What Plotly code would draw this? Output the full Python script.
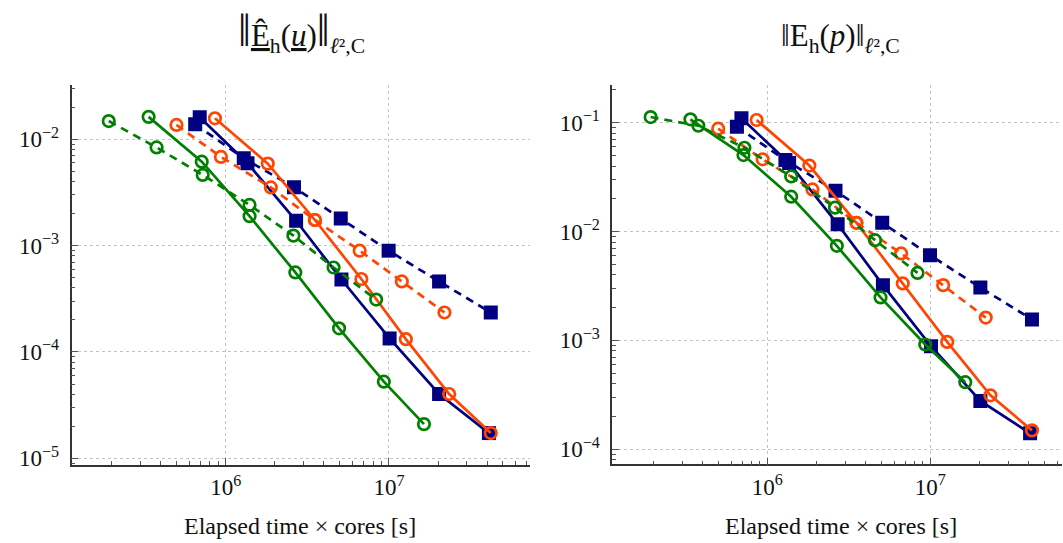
import plotly.graph_objects as go

W, H = 1063, 543

# ---------------- data ----------------
# elapsed time x cores [s] per series (shared by both panels)
x_navy_solid = [6.93e5, 1.36e6, 2.70e6, 5.12e6, 1.01e7, 2.03e7, 4.10e7]
x_navy_dash = [6.50e5, 1.29e6, 2.62e6, 5.07e6, 9.96e6, 2.03e7, 4.21e7]
x_orange_solid = [8.59e5, 1.81e6, 3.52e6, 6.78e6, 1.27e7, 2.34e7, 4.21e7]
x_orange_dash = [4.99e5, 9.35e5, 1.89e6, 3.52e6, 6.62e6, 1.20e7, 2.19e7]
x_green_solid = [3.37e5, 7.13e5, 1.40e6, 2.67e6, 4.95e6, 9.31e6, 1.64e7]
x_green_dash = [1.92e5, 3.77e5, 7.23e5, 1.40e6, 2.60e6, 4.58e6, 8.35e6]

# left panel: velocity error
u_navy_solid = [1.61e-2, 5.94e-3, 1.71e-3, 4.80e-4, 1.34e-4, 4.03e-5, 1.73e-5]
u_navy_dash = [1.38e-2, 6.61e-3, 3.53e-3, 1.80e-3, 8.96e-4, 4.60e-4, 2.35e-4]
u_orange_solid = [1.57e-2, 5.89e-3, 1.74e-3, 4.85e-4, 1.32e-4, 4.03e-5, 1.73e-5]
u_orange_dash = [1.36e-2, 6.81e-3, 3.52e-3, 1.74e-3, 8.96e-4, 4.60e-4, 2.35e-4]
u_green_solid = [1.62e-2, 6.14e-3, 1.89e-3, 5.59e-4, 1.67e-4, 5.26e-5, 2.10e-5]
u_green_dash = [1.48e-2, 8.36e-3, 4.61e-3, 2.41e-3, 1.24e-3, 6.22e-4, 3.11e-4]

# right panel: pressure error
p_navy_solid = [0.1098, 0.0426, 0.0117, 3.22e-3, 8.85e-4, 2.78e-4, 1.40e-4]
p_navy_dash = [0.0919, 0.0454, 0.0237, 0.01204, 6.07e-3, 3.06e-3, 1.56e-3]
p_orange_solid = [0.1059, 0.0404, 0.01204, 3.34e-3, 9.69e-4, 3.13e-4, 1.49e-4]
p_orange_dash = [0.0881, 0.0461, 0.0244, 0.01204, 6.30e-3, 3.22e-3, 1.62e-3]
p_green_solid = [0.1075, 0.0505, 0.0209, 7.40e-3, 2.48e-3, 9.17e-4, 4.13e-4]
p_green_dash = [0.1128, 0.0938, 0.0589, 0.0321, 0.0166, 8.34e-3, 4.17e-3]

x_tickvals = [1e6, 1e7]
x_ticktext = ["10<sup>6</sup>", "10<sup>7</sup>"]
yl_tickvals = [1e-5, 1e-4, 1e-3, 1e-2]
yl_ticktext = ["10<sup>−5</sup>", "10<sup>−4</sup>", "10<sup>−3</sup>", "10<sup>−2</sup>"]
yr_tickvals = [1e-4, 1e-3, 1e-2, 1e-1]
yr_ticktext = ["10<sup>−4</sup>", "10<sup>−3</sup>", "10<sup>−2</sup>", "10<sup>−1</sup>"]

BAR = '<span style="font-size:46px">‖</span>'
title_left = BAR + "<u>Ê</u><sub>h</sub>(<u><i>u</i></u>)" + BAR + "<sub><i>ℓ</i>²,C</sub>"
title_right = "‖E<sub>h</sub>(<i>p</i>)‖<sub><i>ℓ</i>²,C</sub>"
xlabel = "Elapsed time × cores [s]"

NAVY = "#000080"
ORANGE = "#ff4500"
GREEN = "#008000"
FONT = "Liberation Serif"

series = [
    (x_navy_solid, u_navy_solid, p_navy_solid, NAVY, "solid", "square"),
    (x_navy_dash, u_navy_dash, p_navy_dash, NAVY, "8px,6px", "square"),
    (x_orange_solid, u_orange_solid, p_orange_solid, ORANGE, "solid", "circle-open"),
    (x_orange_dash, u_orange_dash, p_orange_dash, ORANGE, "8px,6px", "circle-open"),
    (x_green_solid, u_green_solid, p_green_solid, GREEN, "solid", "circle-open"),
    (x_green_dash, u_green_dash, p_green_dash, GREEN, "8px,6px", "circle-open"),
]

fig = go.Figure()
for xs, ul, pr, col, dash, sym in series:
    if sym == "square":
        mk = dict(symbol="square", size=14, color=col, line=dict(width=0))
    else:
        mk = dict(symbol="circle-open", size=11.5, color=col, line=dict(width=2.7, color=col))
    for yv, xa, ya in ((ul, "x", "y"), (pr, "x2", "y2")):
        fig.add_trace(go.Scatter(x=xs, y=yv, xaxis=xa, yaxis=ya, mode="lines+markers",
                                 line=dict(color=col, width=2.7, dash=dash),
                                 marker=mk, showlegend=False))


def minor_vals(lo, hi):
    v = []
    for e in range(lo, hi + 1):
        for m in range(2, 10):
            v.append(m * 10.0 ** e)
    return v


def px_x(p):
    return p / W


def px_y(p):
    return 1 - p / H


axis_common = dict(type="log", showline=True, linecolor="#333333", linewidth=1.6,
                   ticks="inside", ticklen=7, tickwidth=1, tickcolor="#555555",
                   showgrid=True, gridcolor="#c4c4c4", griddash="dot", gridwidth=1.4,
                   zeroline=False, automargin=False, mirror=False,
                   tickfont=dict(family=FONT, size=23, color="#111111"))

minor_x = dict(tickvals=minor_vals(5, 7), ticks="inside", ticklen=4, tickwidth=1,
               tickcolor="#555555", showgrid=False)

fig.update_layout(
    width=W, height=H, template="none",
    margin=dict(l=0, r=0, t=0, b=0),
    paper_bgcolor="white", plot_bgcolor="white",
    xaxis=dict(axis_common, domain=[px_x(71.5), px_x(530)], range=[5.055, 7.8646],
               tickvals=x_tickvals, ticktext=x_ticktext, minor=minor_x, anchor="y",
               ticklabelstandoff=1),
    yaxis=dict(axis_common, domain=[px_y(465), px_y(85)], range=[-5.062, -1.491],
               tickvals=yl_tickvals, ticktext=yl_ticktext, anchor="x",
               ticklabelstandoff=6,
               minor=dict(tickvals=minor_vals(-6, -2), ticks="inside", ticklen=4, tickwidth=1,
                          tickcolor="#555555", showgrid=False)),
    xaxis2=dict(axis_common, domain=[px_x(612.3), px_x(1062)], range=[5.048, 7.8086],
                tickvals=x_tickvals, ticktext=x_ticktext, minor=minor_x, anchor="y2",
                ticklabelstandoff=1),
    yaxis2=dict(axis_common, domain=[px_y(464.3), px_y(85)], range=[-4.1384, -0.6533],
                tickvals=yr_tickvals, ticktext=yr_ticktext, anchor="x2",
                ticklabelstandoff=6,
                minor=dict(tickvals=minor_vals(-5, -1), ticks="inside", ticklen=4, tickwidth=1,
                           tickcolor="#555555", showgrid=False)),
)

anns = [
    dict(text=title_left, x=px_x(301), y=px_y(32), font=dict(family=FONT, size=31, color="#111")),
    dict(text=title_right, x=px_x(840), y=px_y(38), font=dict(family=FONT, size=31, color="#111")),
    dict(text=xlabel, x=px_x(300), y=px_y(526), font=dict(family=FONT, size=24, color="#111")),
    dict(text=xlabel, x=px_x(841), y=px_y(526), font=dict(family=FONT, size=24, color="#111")),
]
for a in anns:
    fig.add_annotation(xref="paper", yref="paper", showarrow=False,
                       xanchor="center", yanchor="middle", **a)

fig.write_html("out.html", config={"displayModeBar": False},
               post_script="document.body.style.margin='0';document.body.style.overflow='hidden';")
